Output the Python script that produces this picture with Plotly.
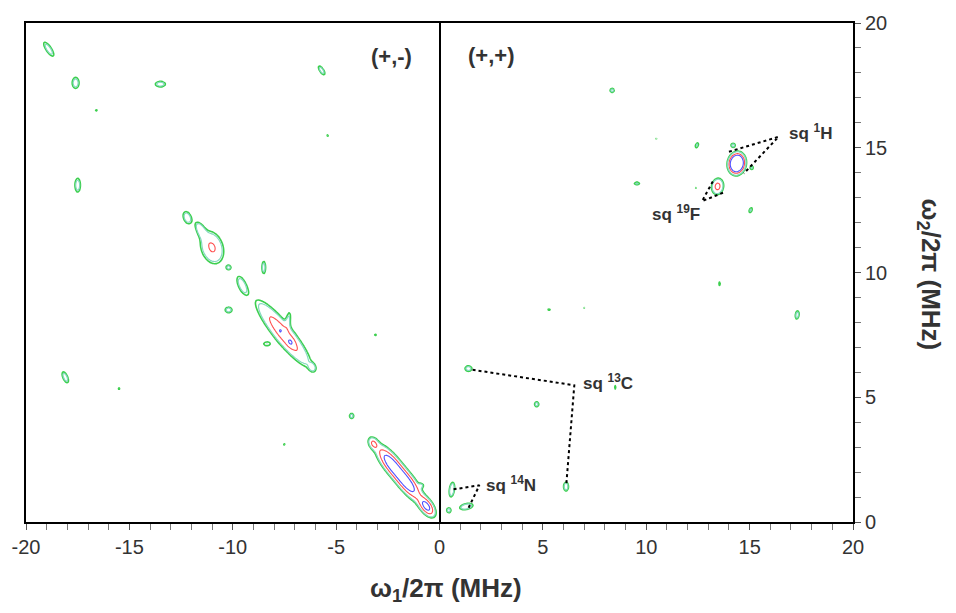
import numpy as np
import plotly.graph_objects as go

# ---- HYSCORE cross peaks: centre (MHz), amplitude, widths (MHz), tilt (deg) ----
peak_w1 = [-18.9, -17.6, -13.5, -5.7, -17.5, -16.6, -5.4,
           -12.2, -11.55, -11.0, -10.2, -8.5, -9.55, -10.2,
           -7.55, -7.2, -7.7, -7.3, -8.35, -6.15,
           -18.1, -15.5, -4.25, -3.1, -7.5,
           -2.35, -1.55, -3.2, -0.62, -0.87,
           0.6, 0.45, 1.3, 1.4, 6.12, 4.7, 5.3, 8.5, 13.55, 17.3,
           8.35, 12.45, 14.2, 14.38, 15.1, 13.45, 9.55, 15.05,
           10.5, 12.4, 7.0, 8.7]
peak_w2 = [18.95, 17.6, 17.55, 18.1, 13.5, 16.5, 15.5,
           12.2, 11.7, 11.0, 10.2, 10.2, 9.5, 8.5,
           7.55, 7.2, 7.66, 8.15, 7.14, 6.2,
           5.8, 5.35, 4.25, 7.5, 3.1,
           2.35, 1.55, 3.15, 0.62, 1.47,
           1.3, 0.47, 0.62, 6.15, 1.42, 4.72, 8.5, 5.4, 9.55, 8.3,
           17.3, 15.1, 15.1, 14.37, 14.2, 13.45, 13.57, 12.5,
           15.36, 13.4, 8.6, 7.0]
peak_amp = [0.22, 0.22, 0.22, 0.22, 0.22, 0.14, 0.14,
            0.24, 0.27, 0.38, 0.2, 0.22, 0.22, 0.22,
            0.5, 0.2, 0.16, 0.16, 0.16, 0.18,
            0.22, 0.14, 0.2, 0.14, 0.14,
            0.8, 0.8, 0.35, 0.7, 0.15,
            0.3, 0.2, 0.28, 0.22, 0.24, 0.2, 0.15, 0.15, 0.16, 0.22,
            0.2, 0.18, 0.2, 2.2, 0.18, 0.43, 0.18, 0.18,
            0.13, 0.13, 0.13, 0.13]
peak_sig_long = [0.32, 0.2, 0.22, 0.2, 0.25, 0.07, 0.07,
                 0.22, 0.27, 0.45, 0.1, 0.22, 0.33, 0.15,
                 1.1, 0.13, 0.06, 0.3, 0.2, 0.12,
                 0.22, 0.07, 0.1, 0.07, 0.07,
                 0.55, 0.55, 0.18, 0.3, 0.1,
                 0.22, 0.1, 0.25, 0.15, 0.15, 0.1, 0.1, 0.1, 0.1, 0.15,
                 0.1, 0.12, 0.1, 0.21, 0.08, 0.21, 0.14, 0.12,
                 0.07, 0.07, 0.07, 0.07]
peak_sig_short = [0.11, 0.15, 0.1, 0.08, 0.12, 0.07, 0.07,
                  0.15, 0.13, 0.34, 0.08, 0.08, 0.15, 0.1,
                  0.25, 0.1, 0.06, 0.1, 0.1, 0.1,
                  0.1, 0.07, 0.1, 0.07, 0.07,
                  0.2, 0.2, 0.13, 0.16, 0.08,
                  0.09, 0.1, 0.09, 0.1, 0.1, 0.1, 0.05, 0.05, 0.05, 0.08,
                  0.08, 0.07, 0.08, 0.19, 0.08, 0.18, 0.06, 0.07,
                  0.07, 0.07, 0.07, 0.07]
peak_tilt = [-50, 90, 0, -50, 90, 0, 0,
             -60, -55, -60, 0, 90, -60, 0,
             -45, -45, 0, 80, 0, -45,
             -60, 0, 0, 0, 0,
             -45, -45, -45, -45, 0,
             80, 0, 10, 0, 90, 0, 0, 90, 90, 80,
             0, 60, 0, 60, 0, 70, 0, 60,
             0, 0, 0, 0]

# ---- contour levels and colours ----
level_values = [0.12, 0.16, 0.35, 0.6]
level_colors = ["#3ccf4e", "#86d9c0", "#ff5050", "#4f4fff"]
level_widths = [1.6, 1.2, 1.1, 1.1]

# ---- tick labels (plain hyphen minus) ----
x_tick_values = [-20, -15, -10, -5, 0, 5, 10, 15, 20]
x_tick_labels = ["-20", "-15", "-10", "-5", "0", "5", "10", "15", "20"]
y_tick_values = [0, 5, 10, 15, 20]
y_tick_labels = ["0", "5", "10", "15", "20"]

# ---- quadrant labels ----
quad_text = ["(+,-)", "(+,+)"]
quad_w1 = [-2.3, 2.47]
quad_w2 = [18.65, 18.7]

# ---- assignment labels with dotted leader lines ----
label_text = ["sq <sup>1</sup>H", "sq <sup>19</sup>F", "sq <sup>13</sup>C", "sq <sup>14</sup>N"]
label_w1 = [16.8, 10.18, 6.85, 2.17]
label_w2 = [15.63, 12.38, 5.63, 1.51]
leader_w1 = [[14.0, 16.4, 14.72], [13.22, 12.7, 13.75], [1.6, 6.52, 6.13], [0.68, 1.93, 1.4]]
leader_w2 = [[14.84, 15.44, 13.97], [13.65, 12.86, 13.21], [6.1, 5.48, 1.47], [1.31, 1.47, 0.56]]

# ---- build the 2D spectrum on a grid ----
w1 = np.arange(-20.0, 20.0001, 0.06)
w2 = np.arange(0.0, 20.0001, 0.06)
W1, W2 = np.meshgrid(w1, w2)
spec = np.zeros_like(W1)
for x0, y0, a, sl, ss, th in zip(peak_w1, peak_w2, peak_amp, peak_sig_long,
                                  peak_sig_short, peak_tilt):
    t = np.deg2rad(th)
    dx, dy = W1 - x0, W2 - y0
    u = dx * np.cos(t) + dy * np.sin(t)
    v = -dx * np.sin(t) + dy * np.cos(t)
    spec += a * np.exp(-0.5 * (u / sl) ** 2 - 0.5 * (v / ss) ** 2)
spec = spec.astype(np.float32)

fig = go.Figure()
for lv, col, lw in zip(level_values, level_colors, level_widths):
    fig.add_trace(go.Contour(
        x=w1, y=w2, z=spec,
        contours=dict(start=lv, end=lv, size=1, coloring="none"),
        line=dict(color=col, width=lw, smoothing=1),
        showscale=False, hoverinfo="skip",
    ))

for xs, ys in zip(leader_w1, leader_w2):
    fig.add_trace(go.Scatter(
        x=xs, y=ys, mode="lines",
        line=dict(color="black", width=2, dash="dot"),
        showlegend=False, hoverinfo="skip",
    ))

dark = "#333333"
font_family = "Liberation Sans, Arial, sans-serif"

for txt, x0, y0 in zip(quad_text, quad_w1, quad_w2):
    fig.add_annotation(x=x0, y=y0, text="<b>%s</b>" % txt, showarrow=False,
                       font=dict(size=22, color=dark, family=font_family),
                       xanchor="center", yanchor="middle")

for txt, x0, y0 in zip(label_text, label_w1, label_w2):
    fig.add_annotation(x=x0, y=y0, text="<b>%s</b>" % txt, showarrow=False,
                       font=dict(size=17, color=dark, family=font_family),
                       xanchor="left", yanchor="middle")

# axis titles
fig.add_annotation(xref="paper", yref="paper", x=0.508, y=-0.135,
                   text="<b>\u03c9<sub>1</sub>/2\u03c0 (MHz)</b>", showarrow=False,
                   font=dict(size=26, color=dark, family=font_family),
                   xanchor="center", yanchor="middle")
fig.add_annotation(xref="paper", yref="paper", x=1.093, y=0.496,
                   text="<b>\u03c9<sub>2</sub>/2\u03c0 (MHz)</b>", showarrow=False,
                   textangle=90,
                   font=dict(size=26, color=dark, family=font_family),
                   xanchor="center", yanchor="middle")

axis_common = dict(
    showline=True, linecolor="black", linewidth=2, mirror=True,
    ticks="outside", ticklen=6, tickwidth=1, tickcolor="#555555",
    showgrid=False,
    tickfont=dict(size=20, color=dark, family=font_family),
    minor=dict(dtick=1, ticks="outside", ticklen=6, tickwidth=1, tickcolor="#777777",
               showgrid=False),
)

fig.update_layout(
    width=956, height=613,
    margin=dict(l=24, r=103, t=18, b=91),
    paper_bgcolor="white", plot_bgcolor="white",
    showlegend=False,
    xaxis=dict(range=[-20, 20], tickmode="array",
               tickvals=x_tick_values, ticktext=x_tick_labels,
               zeroline=True, zerolinecolor="black", zerolinewidth=2,
               **axis_common),
    yaxis=dict(range=[0, 20], tickmode="array",
               tickvals=y_tick_values, ticktext=y_tick_labels,
               side="right", zeroline=False, **axis_common),
)

fig.write_html("out.html")
